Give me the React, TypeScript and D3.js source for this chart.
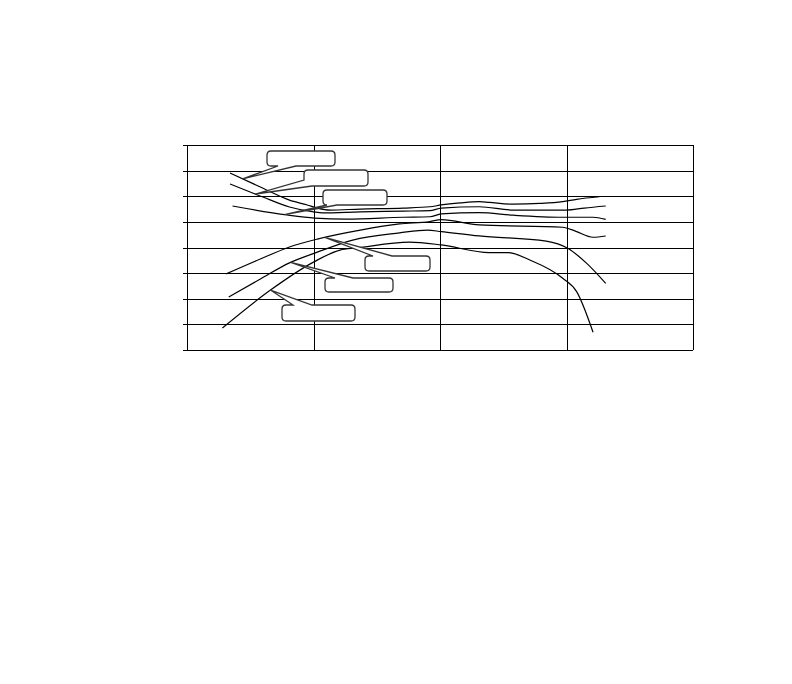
import * as d3 from "d3";

// series values (x in chart units 0..40, y in chart units 0..80)
const xA = [3.4, 5.8, 8.1, 9.5, 10.3, 11.3, 13.7, 17.1, 19.2, 20.1, 21.6, 23.1, 23.9, 25.8, 27.9, 29.7, 30.8, 32.6];
const yA = [69.1, 63.6, 58.5, 56.6, 55.4, 54.6, 55.0, 55.4, 55.9, 56.6, 57.4, 57.9, 57.6, 56.9, 57.2, 57.9, 58.8, 59.8];

const xB = [3.4, 6.0, 8.1, 10.0, 10.7, 13.7, 17.1, 19.2, 20.1, 23.1, 25.8, 30.0, 31.4, 33.1];
const yB = [64.8, 59.7, 55.8, 53.9, 53.5, 53.9, 54.2, 54.4, 55.4, 55.9, 54.6, 54.6, 55.4, 56.2];

const xC = [3.6, 7.9, 10.1, 12.6, 17.1, 19.2, 20.1, 23.1, 25.8, 29.7, 32.1, 33.1];
const yC = [56.2, 52.7, 51.5, 51.1, 51.8, 52.0, 53.1, 53.6, 52.6, 51.8, 51.8, 51.0];

const xD = [3.1, 5.8, 8.1, 10.3, 13.7, 16.8, 19.2, 20.1, 23.1, 29.7, 30.7, 32.1, 33.1];
const yD = [29.7, 35.5, 40.2, 43.3, 46.8, 49.2, 50.1, 50.9, 48.8, 47.9, 46.4, 44.0, 44.5];

const xE = [3.3, 5.8, 8.1, 10.3, 13.1, 16.8, 19.0, 20.1, 23.1, 28.4, 30.1, 31.6, 33.1];
const yE = [20.7, 27.7, 34.0, 38.2, 42.9, 45.7, 46.8, 46.2, 44.5, 42.5, 39.7, 33.8, 26.0];

const xF = [2.8, 6.6, 10.0, 12.1, 13.4, 17.6, 20.1, 23.9, 25.4, 27.1, 29.7, 30.8, 32.1];
const yF = [8.6, 23.4, 34.3, 39.0, 39.8, 42.1, 41.0, 38.0, 38.0, 35.1, 28.0, 22.8, 6.9];

const SERIES_X = [xA, xB, xC, xD, xE, xF];
const SERIES_Y = [yA, yB, yC, yD, yE, yF];

const X_TICKS = [0, 10, 20, 30, 40];
const Y_TICKS = [0, 10, 20, 30, 40, 50, 60, 70, 80];

// label callouts: which series and where along x the pointer lands
const CALLOUT_SERIES = [0, 1, 2, 3, 4, 5];
const CALLOUT_X = [4.4, 5.4, 7.7, 10.9, 8.2, 6.6];

// box layout in pixels relative to plot top-left; wedge side + base offsets
const BOXES = [
  { bx: 80, by: 6, bw: 68, bh: 15, side: "bottom", b1: 11, b2: 29 },
  { bx: 117, by: 25, bw: 64, bh: 16, side: "bottom", b1: -6, b2: 8 },
  { bx: 136, by: 45, bw: 64, bh: 15, side: "bottom", b1: 4, b2: 14 },
  { bx: 178, by: 111, bw: 65, bh: 15, side: "top", b1: 8, b2: 27 },
  { bx: 138, by: 133, bw: 68, bh: 14, side: "top", b1: 10, b2: 28 },
  { bx: 95, by: 160, bw: 73, bh: 16, side: "top", b1: 11, b2: 30 },
];

const W = 792;
const H = 684;
const margin = { left: 187, top: 145, right: 99, bottom: 334 };

function calloutPath(
  x: number, y: number, w: number, h: number,
  side: string, b1: number, b2: number, tx: number, ty: number
) {
  const r = 4;
  const p = d3.path();
  if (side === "top") {
    p.moveTo(x + r, y);
    p.lineTo(x + b1, y);
    p.lineTo(tx, ty);
    p.lineTo(x + b2, y);
    p.lineTo(x + w - r, y);
    p.quadraticCurveTo(x + w, y, x + w, y + r);
    p.lineTo(x + w, y + h - r);
    p.quadraticCurveTo(x + w, y + h, x + w - r, y + h);
    p.lineTo(x + r, y + h);
    p.quadraticCurveTo(x, y + h, x, y + h - r);
    p.lineTo(x, y + r);
    p.quadraticCurveTo(x, y, x + r, y);
  } else {
    p.moveTo(x + r, y);
    p.lineTo(x + w - r, y);
    p.quadraticCurveTo(x + w, y, x + w, y + r);
    p.lineTo(x + w, y + h - r);
    p.quadraticCurveTo(x + w, y + h, x + w - r, y + h);
    p.lineTo(x + b2, y + h);
    p.lineTo(tx, ty);
    if (b1 < 0) {
      p.lineTo(x, y + h + b1);
    } else {
      p.lineTo(x + b1, y + h);
      p.lineTo(x + r, y + h);
      p.quadraticCurveTo(x, y + h, x, y + h - r);
    }
    p.lineTo(x, y + r);
    p.quadraticCurveTo(x, y, x + r, y);
  }
  p.closePath();
  return p.toString();
}

export default function App() {
  const innerW = W - margin.left - margin.right;
  const innerH = H - margin.top - margin.bottom;

  const xScale = d3.scaleLinear().domain([0, 40]).range([0, innerW]);
  const yScale = d3.scaleLinear().domain([0, 80]).range([innerH, 0]);

  const line = d3
    .line<[number, number]>()
    .x((d) => xScale(d[0]))
    .y((d) => yScale(d[1]))
    .curve(d3.curveMonotoneX);

  const snap = (v: number) => Math.round(v) + 0.5;

  return (
    <svg
      width={W}
      height={H}
      style={{ position: "absolute", left: 0, top: 0, display: "block", background: "#fff" }}
    >
      <g transform={`translate(${margin.left},${margin.top})`}>
        {/* horizontal grid + left ticks */}
        {Y_TICKS.map((t) => (
          <line
            key={`h${t}`}
            x1={-4}
            x2={innerW}
            y1={snap(yScale(t))}
            y2={snap(yScale(t))}
            stroke="#000"
            strokeWidth={1}
            shapeRendering="crispEdges"
          />
        ))}
        {/* vertical grid */}
        {X_TICKS.map((t) => (
          <line
            key={`v${t}`}
            x1={snap(xScale(t))}
            x2={snap(xScale(t))}
            y1={0}
            y2={innerH}
            stroke="#000"
            strokeWidth={1}
            shapeRendering="crispEdges"
          />
        ))}

        {/* series lines */}
        {SERIES_X.map((xs, i) => (
          <path
            key={`s${i}`}
            d={line(xs.map((x, j) => [x, SERIES_Y[i][j]] as [number, number])) ?? ""}
            fill="none"
            stroke="#000"
            strokeWidth={1.2}
          />
        ))}

        {/* callout boxes (empty labels) */}
        {CALLOUT_SERIES.map((si, i) => {
          const interp = d3.scaleLinear().domain(SERIES_X[si]).range(SERIES_Y[si]);
          const tx = xScale(CALLOUT_X[i]);
          const ty = yScale(interp(CALLOUT_X[i]));
          const b = BOXES[i];
          return (
            <path
              key={`c${i}`}
              d={calloutPath(b.bx, b.by, b.bw, b.bh, b.side, b.b1, b.b2, tx, ty)}
              fill="#fff"
              stroke="#333"
              strokeWidth={1.3}
            />
          );
        })}
      </g>
    </svg>
  );
}
